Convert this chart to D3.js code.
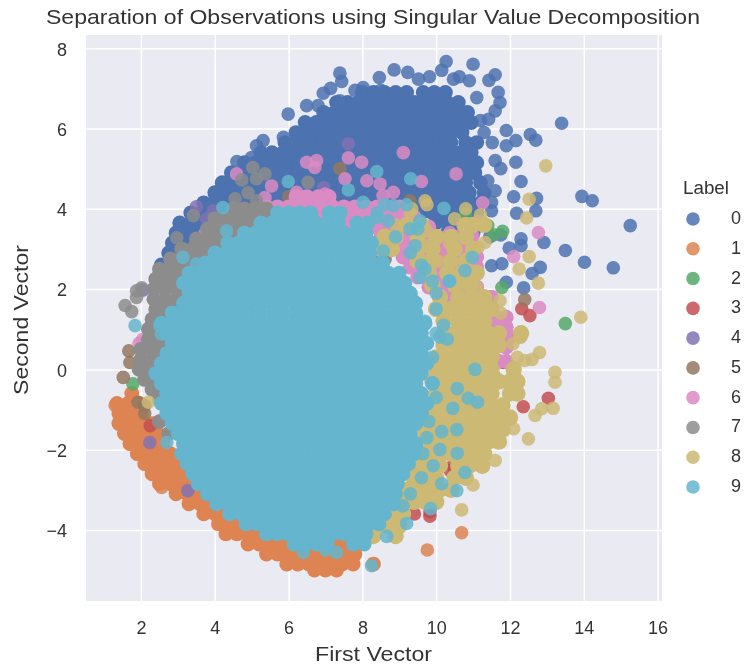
<!DOCTYPE html>
<html><head><meta charset="utf-8">
<script src="https://cdn.jsdelivr.net/npm/d3@7"></script>
<style>html,body{margin:0;background:#fff}svg{display:block;font-family:"Liberation Sans",Arial,sans-serif;filter:blur(.45px)}</style>
</head><body><svg id="c" width="747" height="664"></svg>
<script>
const labels=["0","1","2","3","4","5","6","7","8","9"];
const colors=["#4C72B0","#DD8452","#55A868","#C44E52","#8172B3","#937860","#DA8BC3","#8C8C8C","#CCB974","#64B5CD"];
const xTicks=[2,4,6,8,10,12,14,16];
const yTicks=[-4,-2,0,2,4,6,8];
// Dense bodies: each row is [y, x, x, x ...]; loose points: [x, y]
const label0Rows=[
[6.9,8.0,8.3,8.6,8.9,9.2,9.65,9.95,10.25],
[6.65,7.3,7.6,7.9,8.2,8.5,8.8,9.1,9.4,9.7,10,10.3,10.6],
[6.4,6.95,7.25,7.55,7.85,8.15,8.45,8.75,9.05,9.35,9.65,9.95,10.25,10.55,10.85],
[6.15,6.45,6.75,7.05,7.35,7.65,7.95,8.25,8.55,8.85,9.15,9.45,9.75,10.05,10.35,10.65,10.95],
[5.9,6.2,6.5,6.8,7.1,7.4,7.7,8,8.3,8.6,8.9,9.2,9.5,9.8,10.1,10.4,10.7],
[5.65,5.9,6.2,6.5,6.8,7.1,7.4,7.7,8,8.3,8.6,8.9,9.2,9.5,9.8,10.1,10.4,10.8,11.1],
[5.4,5.25,5.55,5.85,6.15,6.45,6.75,7.05,7.35,7.65,7.95,8.25,8.55,8.85,9.15,9.45,9.75,10.05,10.35,10.65,10.95],
[5.15,4.8,5.1,5.4,5.7,6,6.3,6.6,6.9,7.2,7.5,7.8,8.1,8.4,8.7,9,9.3,9.6,9.9,10.2,10.5,10.8,11.1],
[4.9,4.45,4.75,5.05,5.35,5.65,5.95,6.25,6.55,6.85,7.15,7.45,7.75,8.05,8.35,8.65,8.95,9.25,9.55,9.85,10.15,10.45,10.75,11.05],
[4.65,4.2,4.5,4.8,5.1,5.4,5.7,6,6.3,6.6,6.9,7.2,7.5,7.8,8.1,8.4,8.7,9,9.3,9.6,9.9,10.2,10.5,10.8,11.2],
[4.4,4,4.3,4.6,4.9,5.2,5.5,5.8,6.1,6.4,6.7,7,7.3,7.6,7.9,8.2,8.5,8.8,9.1,9.4,9.7,10,10.3,10.6,10.9,11.3],
[4.15,3.7,4,4.3,4.6,4.9,5.2,5.5,5.8,6.1,6.4,6.7,7,7.3,7.6,7.9,8.2,8.5,8.8,9.1,9.4,9.7,10,10.3,10.6,10.9,11.2],
[3.9,3.35,3.65,3.95,4.25,4.55,9,9.3,9.6,9.9,10.2,10.5,10.8,11.1],
[3.65,3.05,3.35,3.65,3.95,10,10.3,10.6,10.9],
[3.4,2.95,3.25,3.55,10.3,10.6,11],
[3.15,2.85,3.15,3.45,10.6,10.9],
[2.9,2.75,3.05],
[2.6,2.55,2.85],
[2.35,2.5,2.8],
[1.2,2.4,2.6],[.9,2.45]
];
const label0Loose=[[13.4,6.13],[15.26,3.58],[13.95,4.31],[14.23,4.2],[14.8,2.53],[14.02,2.67],[13.5,2.96],[12.92,3.16],[12.3,3.25],[12.3,3.08],[11.98,3.02],[12.82,2.54],[12.6,2.39],[11.78,2.63],[11.5,2.58],[11.9,2.17],[12.37,2.03],[12.1,4.3],[12.72,4.26],[12.18,3.89],[12.7,3.95],[12.3,4.68],[11.9,5.95],[12.16,5.7],[12.55,5.85],[12.7,5.71],[12.16,5.16],[11.52,5.65],[11.9,5.57],[11.5,4.16],[11.5,3.95],[11,7.6],[10.27,7.67],[10.15,7.45],[11.6,7.34],[11.43,7.2],[10.63,7.29],[8.86,7.46],[9.23,7.4],[8.46,7.27],[9.82,7.29],[9.52,7.23],[11.68,6.9],[11.73,6.65],[11.6,6.44],[11.42,6.23],[10.9,7.19],[11.1,6.77],[10.47,7.23],[7.39,7.38],[7.44,7.17],[5.99,6.36],[6.94,6.88],[7.14,7],[6.49,6.57],[6.8,6.57],[5.31,5.7],[5.13,5.57],[5.86,5.78],[4.6,5.18],[5,5.28],[8.02,7.02],[7.39,6.69],[11.2,6.2],[11.3,5.9],[11.6,5.2],[11.75,5.0],[11.4,4.7],[11.6,4.45],[11.1,3.55],[11.45,3.3],[11.75,3.35],[10.95,3.2],[8.5,6.95],[7.8,6.95]];
const label1Rows=[
[-.6,1.75],[-.85,1.35,1.65,1.95],[-1.1,1.4,1.7,2],[-1.35,1.4,1.7,2,2.3],[-1.6,1.55,1.85,2.15,2.45],[-1.85,1.7,2,2.3,2.6],[-2.1,1.9,2.2,2.5,2.8],[-2.35,2.1,2.4,2.7,3],[-2.6,2.3,2.6,2.9,3.2],[-2.85,2.5,2.8,3.1,3.4],[-3.1,2.95,3.25,3.55,3.85],[-3.35,3.3,3.6,3.9,4.2],[-3.6,3.7,4,4.3,4.6],[-3.85,4.1,4.4,4.7,5],[-4.1,4.3,4.6,4.9,5.2,5.5],[-4.35,4.9,5.2,5.5,5.8,6.1,6.4,6.7,7,7.3,7.6],[-4.6,5.4,5.7,6,6.3,6.6,6.9,7.2,7.5,7.8],[-4.85,5.95,6.25,6.55,6.85,7.15,7.45,7.75,8.3],[-5,6.7,7,7.3]];
const label1Loose=[[9.76,-4.5],[10.69,-4.07],[1.3,-.9],[2.56,-2.94]];
const label2Loose=[[13.5,1.14],[11.8,3.44],[11.4,3.58],[10.8,3.88],[11.78,2.04],[1.78,-.36],[11.14,-1.28],[11.55,3.35]];
const label3Loose=[[12.54,1.34],[12.32,1.51],[11.78,.8],[11.95,.8],[13.04,-.72],[12.36,-.93],[10.38,-2.52],[10.45,-2.4],[9.41,-3.6],[9.83,-3.66],[9.83,-3.55],[11.82,.17],[11.56,-.16],[11.19,-1.28],[11.1,-2.1],[2.25,-1.4]];
const label4Loose=[[2.24,-1.82],[3.27,-3.02],[7.62,5.62],[3.78,3.75],[3.95,3.95],[6.95,4.53],[2.05,1.97],[3.5,4.05],[7.9,3.9]];
const label5Loose=[[1.67,.46],[1.7,.17],[1.52,-.2],[1.92,-.82],[2.1,-1.1],[2.1,-.9],[7.39,5],[9.29,4.2],[12.4,1.74],[4.7,3.9],[8.13,2.8],[6,4.3],[10.35,-.1]];
const label6Rows=[
[4.3,6.2,6.5,6.8,7.1],
[4.05,5.4,5.7,6,6.3,6.6,6.9,7.2,7.5,7.8,8.1,8.4,8.7,9],
[3.8,5.2,5.5,5.8,6.1,6.4,6.7,7,7.3,7.6,7.9,8.2,8.5,8.8,9.1,9.4],
[3.55,6.5,6.8,7.1,7.4,7.7,8,8.3,8.6,8.9,9.2,9.5,9.8],
[3.3,8.5,8.8,9.1,9.4,9.7,10,10.3,10.6,10.95],
[3.05,8.6,8.9,9.2,9.5,9.8,10.1,10.4,10.7,11],
[2.8,9.1,9.4,9.7,10,10.3,10.6,10.9,11.1],
[2.55,9.3,9.6,9.9,10.2,10.5,10.8,11.1],
[2.3,9.5,9.8,10.1,10.4,10.7,11],
[2.05,9.8,10.1,10.4,10.7,11.1],
[1.8,10.1,10.4,10.7,11,11.3,11.5],
[1.55,10.5,10.8,11.1,11.5],
[1.3,11,11.3,11.6,11.9],
[1.05,11,11.3,11.6,11.9],
[.8,11.3,11.6,12],[.55,11.6,11.9],[.2,11.7,11.9]];
const label6Loose=[[6.49,5.16],[6.76,5.2],[6.71,5.03],[7.62,5.27],[7.98,5.16],[7.53,4.75],[8.12,4.7],[6.22,4.41],[6.99,4.37],[6.71,4.2],[5.54,4.57],[4.59,4.87],[5.36,4.28],[3.73,3.38],[3.69,3.16],[9.11,5.4],[10.54,4.87],[9.6,4.68],[8.48,4.62],[8.84,4.41],[8.56,4.33],[11.26,4.15],[11.14,3.68],[12.77,3.41],[12.1,2.81],[11,3.33],[12.8,1.54],[10.37,3.41],[2.05,.75],[1.95,.65]];
const label7Rows=[
[4,4.5,4.8,5.1,5.4],[3.75,4,4.3,4.6,4.9,5.2,5.5],[3.5,3.8,4.1,4.4,4.7,5,5.3,5.6,6,6.4,6.8],[3.25,3.5,3.8,4.1,4.4,4.7,5,5.2,5.6,6,7.5,7.9],[3,3.1,3.4,3.7,4,4.3,4.6,5.8,7.9,8.3],[2.75,2.8,3.1,3.4,3.7,4,8.3,8.6],[2.5,2.5,2.8,3.1,3.4,3.7],[2.25,2.4,2.7,3,3.4],[2,2.35,2.65,2.95,3.2],[1.75,2.35,2.65,2.95,3.2],[1.5,2.4,2.7,3],[1.25,2.3,2.55,2.8],[1,2.2,2.45,2.7],[.75,2.2,2.45,2.7],[.5,2,2.3,2.6],[.25,2,2.3,2.6],[0,1.95,2.25,2.55],[-.25,2.1,2.4,2.7],[-.5,2.3,2.6],[-.75,2.5],[-1.3,2.5],[-1.6,2.75]];
const label7Loose=[[5.03,5.03],[5.36,4.87],[5.13,4.75],[4.73,4.72],[6.53,4.66],[4.9,4.4],[4.55,4.25],[5.13,4.2],[1.88,1.96],[2.02,2.03],[1.57,1.59],[1.75,1.44],[1.88,1.79],[3.42,3.83],[2.97,3.28]];
const label8Rows=[
[3.6,9.2,9.6,10.8,11,11.3],[3.3,8.6,8.9,9.5,10,10.4,10.8],[3,8.5,8.8,9.5,9.9,10.5,11],[2.7,9.5,9.9,10.4,10.8],[2.4,9.8,10.3,10.7,11.1],[2.1,9.9,10.5,10.9],[1.8,10.1,10.6,11,11.3],[1.5,10,10.4,10.8,11.2,11.5],[1.2,10.2,10.6,11,11.3],[.9,10.2,10.5,10.8,11.1,11.4,11.7,12.3],[.6,10.2,10.5,10.8,11.1,11.4,11.7],[.3,10,10.3,10.6,10.9,11.2,11.5],[0,10,10.3,10.6,10.9,11.2,11.5,12.1],[-.3,9.9,10.2,10.5,10.8,11.1,11.4,11.7,12,12.2],[-.6,10,10.3,10.6,10.9,11.2,11.5,12,12.2],[-.9,10,10.3,10.6,10.9,11.2,11.5,11.8],[-1.2,9.8,10.1,10.4,10.7,11,11.3,11.6,11.9,12],[-1.5,9.7,10,10.3,10.6,10.9,11.2,11.5,11.8],[-1.8,9.6,9.9,10.2,10.5,10.8,11.1,11.4,11.7],[-2.1,9.5,9.8,10.1,10.4,10.7,11,11.3],[-2.4,9.5,9.8,10.1,10.6,10.9,11.25],[-2.7,9.4,9.7,10,10.5,10.8],[-3,9.2,9.5,9.8,10.1,10.4],[-3.3,9.1,9.4,9.7,10],[-3.6,8.8,9.1],[-3.9,8.4,8.7,9],[-4.15,8.3,8.9]];
const label8Loose=[[13.92,1.3],[12.97,5.07],[12.52,4.24],[12.45,3.77],[12.52,2.81],[12.25,2.5],[12.77,2.15],[12.3,.81],[10.69,-3.5],[11,-2.88],[12.5,-1.73],[12.1,-1.48],[12.68,-1.15],[12.86,-.98],[13.17,-.97],[13.22,-.32],[13.22,-.07],[12.8,.42],[12.6,.25],[12.4,.22],[12.2,.3],[11.27,-2.4],[11.6,-2.27],[10.8,4],[11.2,3.85],[9.75,4.1],[2.2,-.82],[9.3,3.9],[11.75,1.4],[8.9,3.6],[8.84,3.29],[9.7,4.2],[9.34,4],[9.74,3.45],[9.74,3.08],[10.37,3.13],[9.56,2.76],[10.05,2.7],[10.5,3.75],[10.73,3.58],[11.32,3.16],[11.14,3.04],[8.84,2.2],[9.34,1.79],[10.1,1.7],[11.1,2.04],[11.73,1.71],[11.37,1.63],[10.83,1.54],[12.27,.8],[12.08,.64]];
const label9Rows=[
[3.9,5.7,6,6.3,6.6,7.1,7.4],
[3.65,5.25,5.55,5.85,6.15,6.45,6.75,7.05,7.35,7.85,8.15],
[3.4,4.8,5.1,5.4,5.7,6,6.3,6.6,6.9,7.2,7.5,7.8,8.1],
[3.15,4.35,4.65,4.95,5.25,5.55,5.85,6.15,6.45,6.75,7.05,7.35,7.65,7.95,8.25],
[2.9,4,4.3,4.6,4.9,5.2,5.5,5.8,6.1,6.4,6.7,7,7.3,7.6,7.9,8.2],
[2.65,3.75,4.05,4.35,4.65,4.95,5.25,5.55,5.85,6.15,6.45,6.75,7.05,7.35,7.65,7.95,8.25,8.55],
[2.4,3.3,3.6,3.9,4.2,4.5,4.8,5.1,5.4,5.7,6,6.3,6.6,6.9,7.2,7.5,7.8,8.1,8.4,8.7,9],
[2.15,3.15,3.45,3.75,4.05,4.35,4.65,4.95,5.25,5.55,5.85,6.15,6.45,6.75,7.05,7.35,7.65,7.95,8.25,8.55,8.85,9.15],
[1.9,3.3,3.6,3.9,4.2,4.5,4.8,5.1,5.4,5.7,6,6.3,6.6,6.9,7.2,7.5,7.8,8.1,8.4,8.7,9,9.3],
[1.65,3.15,3.45,3.75,4.05,4.35,4.65,4.95,5.25,5.55,5.85,6.15,6.45,6.75,7.05,7.35,7.65,7.95,8.25,8.55,8.85,9.15,9.45],
[1.4,2.85,3.15,3.45,3.75,4.05,4.35,4.65,4.95,5.25,5.55,5.85,6.15,6.45,6.75,7.05,7.35,7.65,7.95,8.25,8.55,8.85,9.15,9.45],
[1.15,2.55,2.85,3.15,3.45,3.75,4.05,4.35,4.65,4.95,5.25,5.55,5.85,6.15,6.45,6.75,7.05,7.35,7.65,7.95,8.25,8.55,8.85,9.15,9.45,9.7],
[.9,2.7,3,3.3,3.6,3.9,4.2,4.5,4.8,5.1,5.4,5.7,6,6.3,6.6,6.9,7.2,7.5,7.8,8.1,8.4,8.7,9,9.3,9.6],
[.65,2.85,3.15,3.45,3.75,4.05,4.35,4.65,4.95,5.25,5.55,5.85,6.15,6.45,6.75,7.05,7.35,7.65,7.95,8.25,8.55,8.85,9.15,9.45,9.75],
[.4,2.7,3,3.3,3.6,3.9,4.2,4.5,4.8,5.1,5.4,5.7,6,6.3,6.6,6.9,7.2,7.5,7.8,8.1,8.4,8.7,9,9.3,9.6],
[.15,2.55,2.85,3.15,3.45,3.75,4.05,4.35,4.65,4.95,5.25,5.55,5.85,6.15,6.45,6.75,7.05,7.35,7.65,7.95,8.25,8.55,8.85,9.15,9.45,9.75],
[-.1,2.4,2.7,3,3.3,3.6,3.9,4.2,4.5,4.8,5.1,5.4,5.7,6,6.3,6.6,6.9,7.2,7.5,7.8,8.1,8.4,8.7,9,9.3,9.6],
[-.35,2.55,2.85,3.15,3.45,3.75,4.05,4.35,4.65,4.95,5.25,5.55,5.85,6.15,6.45,6.75,7.05,7.35,7.65,7.95,8.25,8.55,8.85,9.15,9.45,9.9],
[-.6,2.7,3,3.3,3.6,3.9,4.2,4.5,4.8,5.1,5.4,5.7,6,6.3,6.6,6.9,7.2,7.5,7.8,8.1,8.4,8.7,9,9.3,9.6],
[-.85,2.55,2.85,3.15,3.45,3.75,4.05,4.35,4.65,4.95,5.25,5.55,5.85,6.15,6.45,6.75,7.05,7.35,7.65,7.95,8.25,8.55,8.85,9.15,9.45,9.75],
[-1.1,2.7,3,3.3,3.6,3.9,4.2,4.5,4.8,5.1,5.4,5.7,6,6.3,6.6,6.9,7.2,7.5,7.8,8.1,8.4,8.7,9,9.3,9.6],
[-1.35,2.85,3.15,3.45,3.75,4.05,4.35,4.65,4.95,5.25,5.55,5.85,6.15,6.45,6.75,7.05,7.35,7.65,7.95,8.25,8.55,8.85,9.15,9.45],
[-1.6,3,3.3,3.6,3.9,4.2,4.5,4.8,5.1,5.4,5.7,6,6.3,6.6,6.9,7.2,7.5,7.8,8.1,8.4,8.7,9,9.3],
[-1.85,3.15,3.45,3.75,4.05,4.35,4.65,4.95,5.25,5.55,5.85,6.15,6.45,6.75,7.05,7.35,7.65,7.95,8.25,8.55,8.85,9.15,9.45],
[-2.1,3.1,3.4,3.7,4,4.3,4.6,4.9,5.2,5.5,5.8,6.1,6.4,6.7,7,7.3,7.6,7.9,8.2,8.5,8.8,9.1,9.4],
[-2.35,3.25,3.55,3.85,4.15,4.45,4.75,5.05,5.35,5.65,5.95,6.25,6.55,6.85,7.15,7.45,7.75,8.05,8.35,8.65,8.95,9.25],
[-2.6,3.4,3.7,4,4.3,4.6,4.9,5.2,5.5,5.8,6.1,6.4,6.7,7,7.3,7.6,7.9,8.2,8.5,8.8,9.1],
[-2.85,3.55,3.85,4.15,4.45,4.75,5.05,5.35,5.65,5.95,6.25,6.55,6.85,7.15,7.45,7.75,8.05,8.35,8.65,8.95],
[-3.1,3.8,4.1,4.4,4.7,5,5.3,5.6,5.9,6.2,6.5,6.8,7.1,7.4,7.7,8,8.3,8.6,8.9],
[-3.35,4.05,4.35,4.65,4.95,5.25,5.55,5.85,6.15,6.45,6.75,7.05,7.35,7.65,7.95,8.25,8.55,8.85],
[-3.6,4.4,4.7,5,5.3,5.6,5.9,6.2,6.5,6.8,7.1,7.4,7.7,8,8.3,8.6],
[-3.85,4.85,5.15,5.45,5.75,6.05,6.35,6.65,6.95,7.25,7.55,7.85,8.15,8.45],
[-4.1,5.4,5.7,6,6.3,6.6,6.9,7.2,7.5,7.8,8.1],
[-4.35,6.15,6.45,6.75,7.05,7.75,8.05]];
const label9Loose=[[1.84,1.09],[4.22,4.03],[4.32,3.45],[3.14,2.79],[3.5,2.63],[2.83,1.42],[3,1.42],[2.51,1.09],[2.55,.88],[5.99,4.68],[7.62,4.47],[8.02,4.16],[8.39,4.93],[9.31,4.75],[10.21,4.01],[11.05,0],[10.57,-.48],[10.87,-.72],[11.12,-.82],[10.45,-.97],[10.15,-1.55],[10.56,-1.5],[9.64,-2.1],[10.1,-2],[10.57,-2.09],[9.92,-2.4],[10.78,-2.57],[10.15,-2.85],[10.56,-3.02],[9.85,-3.47],[9.2,-3.84],[8.66,-4.16],[8.25,-4.89],[6.4,-4.56],[7.3,-4.56],[7,-4.5],[2.7,-1.82],[10.78,2.46],[10.35,2.2],[10.98,2.79],[8.57,2.95],[8.9,3.3],[9.3,2.9],[9.6,2.6],[9.5,3.5],[8.7,3.7],[8.4,3.9],[8.6,4.1],[9.2,4.1],[9.7,1.2],[10,.9],[9.9,.3],[10,-.7],[9.8,-1.3],[9.75,-1.7],[9.6,-2.7],[9.3,-3.1],[9.1,-3.4],[8.84,4.08],[8.4,3.79],[9.29,3.5],[9.43,3.08],[9.56,3.7],[9.56,2.29],[10.37,2.2],[10.1,.8],[10.3,.75],[10.2,1.1],[10,1.5],[10,1.9],[9.9,2.2],[9.7,2.5]];
const rowSets=[label0Rows,label1Rows,[],[],[],[],label6Rows,label7Rows,label8Rows,label9Rows];
const looseSets=[label0Loose,label1Loose,label2Loose,label3Loose,label4Loose,label5Loose,label6Loose,label7Loose,label8Loose,label9Loose];

const x=d3.scaleLinear().domain([0.51,16.12]).range([86,662]);
const y=d3.scaleLinear().domain([-5.77,8.33]).range([601,35]);
const svg=d3.select("#c");
const ink="#333";
svg.append("rect").attr("x",86).attr("y",35).attr("width",576).attr("height",566).attr("fill","#EAEAF2");
const fmt=d=>String(d).replace("-","\u2212");
const gx=svg.append("g").attr("transform","translate(0,601)").call(d3.axisBottom(x).tickValues(xTicks).tickSize(-566).tickPadding(20).tickFormat(fmt));
const gy=svg.append("g").attr("transform","translate(86,0)").call(d3.axisLeft(y).tickValues(yTicks).tickSize(-576).tickPadding(19).tickFormat(fmt));
[gx,gy].forEach(g=>{g.select(".domain").remove();g.selectAll("line").attr("stroke","#fff").attr("stroke-width",1.5);g.selectAll("text").attr("fill",ink).attr("font-size",18).attr("font-family","Liberation Sans");});
gy.selectAll("text").attr("dy","0.38em");
const plot=svg.append("g");
const rad=6.8, denseRad=[7.4,7.4,0,0,0,0,7.4,7.4,8.2,7.4];
labels.forEach((l,i)=>{
  const dense=rowSets[i].flatMap(r=>r.slice(1).map(v=>[v,r[0]]));
  plot.append("g").selectAll("circle").data(dense).join("circle").attr("cx",d=>x(d[0])).attr("cy",d=>y(d[1])).attr("r",denseRad[i]).attr("fill",colors[i]);
  plot.append("g").selectAll("circle").data(looseSets[i]).join("circle").attr("cx",d=>x(d[0])).attr("cy",d=>y(d[1])).attr("r",rad).attr("fill",colors[i]).attr("fill-opacity",.85);
});
svg.append("text").attr("x",46).attr("y",24).attr("font-size",21).attr("textLength",654).attr("lengthAdjust","spacingAndGlyphs").attr("fill",ink).text("Separation of Observations using Singular Value Decomposition");
svg.append("text").attr("x",315).attr("y",661).attr("font-size",20).attr("textLength",117).attr("lengthAdjust","spacingAndGlyphs").attr("fill",ink).text("First Vector");
svg.append("text").attr("transform","translate(28,395) rotate(-90)").attr("font-size",20).attr("textLength",150).attr("lengthAdjust","spacingAndGlyphs").attr("fill",ink).text("Second Vector");
svg.append("text").attr("x",683).attr("y",194).attr("font-size",18.8).attr("fill",ink).text("Label");
const legY=d3.scalePoint().domain(labels).range([219,487]);
const leg=svg.append("g").selectAll("g").data(labels).join("g").attr("transform",d=>`translate(693,${legY(d)})`);
leg.append("circle").attr("r",rad).attr("fill",(d,i)=>colors[i]).attr("fill-opacity",.85);
leg.append("text").attr("x",38).attr("y",5).attr("font-size",18).attr("fill",ink).text(d=>d);
</script></body></html>
